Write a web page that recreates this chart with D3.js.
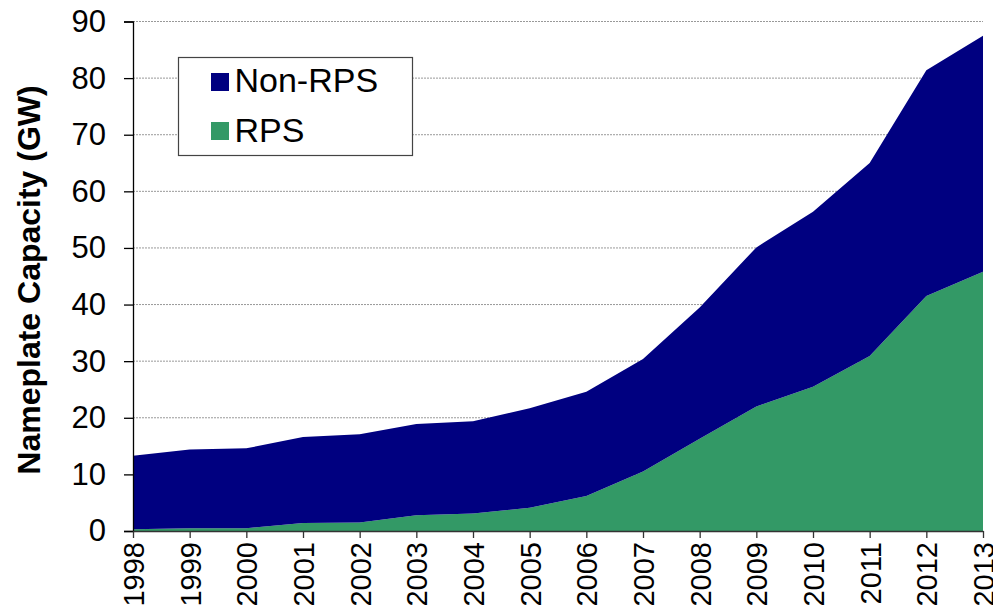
<!DOCTYPE html>
<html>
<head>
<meta charset="utf-8">
<script src="https://d3js.org/d3.v7.min.js"></script>
<style>
  body { margin: 0; background: #fff; }
  text { font-family: Arial, "Liberation Sans", sans-serif; }
</style>
</head>
<body>
<div id="chart"></div>
<script>
// data (GW)
const years  = [1998,1999,2000,2001,2002,2003,2004,2005,2006,2007,2008,2009,2010,2011,2012,2013];
const rps    = [0.3, 0.5, 0.5, 1.4, 1.5, 2.8, 3.1, 4.1, 6.2, 10.5, 16.3, 22.0, 25.5, 30.9, 41.5, 45.8];
const nonRps = [13.0,13.9,14.1,15.2,15.6,16.1,16.3,17.6,18.4,19.9,23.2,28.1,30.9,34.1,39.9,41.7];
const seriesNames = ["RPS", "Non-RPS"];
const colors = {"RPS": "#339966", "Non-RPS": "#000080"};
const yTicks = [0,10,20,30,40,50,60,70,80,90];

const W = 993, H = 609;
const margin = {left: 133, right: 10, top: 21.5, bottom: 78};

const svg = d3.select("#chart").append("svg")
    .attr("width", W).attr("height", H);

const rows = years.map((y, i) => ({year: y, "RPS": rps[i], "Non-RPS": nonRps[i]}));
const stacked = d3.stack().keys(seriesNames)(rows);

const x = d3.scaleLinear().domain([1998, 2013]).range([margin.left, W - margin.right]);
const y = d3.scaleLinear().domain([0, 90]).range([H - margin.bottom, margin.top]);

// gridlines
svg.append("g")
  .selectAll("line").data(yTicks.slice(1)).join("line")
    .attr("x1", margin.left).attr("x2", W - margin.right)
    .attr("y1", d => y(d)).attr("y2", d => y(d))
    .attr("stroke", "#999").attr("stroke-width", 1)
    .attr("stroke-dasharray", "2,1");

// areas
const area = d3.area()
    .x(d => x(d.data.year))
    .y0(d => y(d[0]))
    .y1(d => y(d[1]));

svg.append("g")
  .selectAll("path").data(stacked).join("path")
    .attr("fill", d => colors[d.key])
    .attr("d", area);

// y axis
const yAxis = svg.append("g")
    .attr("transform", `translate(${margin.left},0)`)
    .call(d3.axisLeft(y).tickValues(yTicks).tickSize(9).tickPadding(18));
yAxis.selectAll("text").attr("font-size", 31).attr("fill", "#000")
    .style("font-family", "Arial, 'Liberation Sans', sans-serif");
yAxis.selectAll("line,path").attr("stroke", "#000").attr("stroke-width", 1.3);

// x axis
const xAxis = svg.append("g")
    .attr("transform", `translate(0,${y(0)})`)
    .call(d3.axisBottom(x).tickValues(years).tickFormat(d3.format("d")).tickSize(7).tickSizeOuter(0));
xAxis.selectAll("line,path").attr("stroke", "#333").attr("stroke-width", 1.3);
xAxis.selectAll("text")
    .attr("font-size", 29).attr("fill", "#000")
    .style("font-family", "Arial, 'Liberation Sans', sans-serif")
    .attr("text-anchor", "end")
    .attr("transform", "rotate(-90)")
    .attr("x", -11).attr("y", 0).attr("dy", "0.36em");

// y axis label
svg.append("text")
    .attr("transform", `translate(40,280) rotate(-90)`)
    .attr("text-anchor", "middle")
    .attr("font-size", 32).attr("font-weight", "bold")
    .text("Nameplate Capacity (GW)");

// legend
const lg = svg.append("g").attr("transform", "translate(178.5,57.5)");
lg.append("rect").attr("width", 234).attr("height", 98)
    .attr("fill", "#fff").attr("stroke", "#444").attr("stroke-width", 1.2);
const legendItems = ["Non-RPS", "RPS"];
legendItems.forEach((k, i) => {
  lg.append("rect").attr("x", 32.5).attr("y", 15.5 + i * 49).attr("width", 18).attr("height", 18)
    .attr("fill", colors[k]);
  lg.append("text").attr("x", 56).attr("y", 34 + i * 50)
    .attr("font-size", 34).text(k);
});
</script>
</body>
</html>
